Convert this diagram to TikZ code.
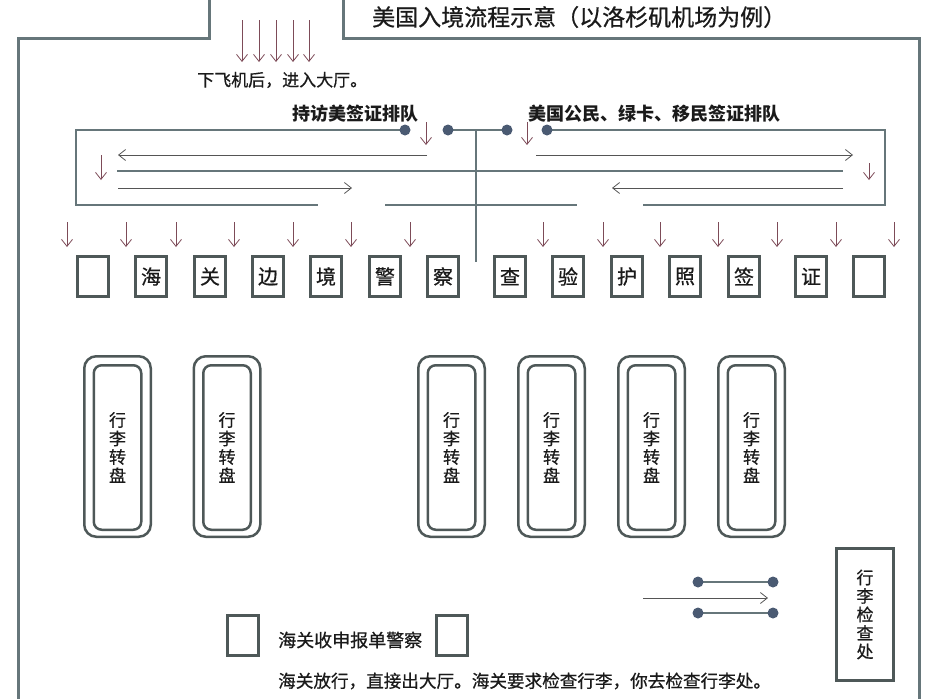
\documentclass[tikz,border=0pt]{standalone}
\usepackage{fontspec}
\newfontfamily\cjk[FakeBold=0.7]{Noto Sans CJK SC}
\newfontfamily\cjkb{Noto Sans CJK SC}
\usetikzlibrary{arrows.meta}
\definecolor{wall}{HTML}{66767A}
\definecolor{boxc}{HTML}{4E5858}
\definecolor{arr}{HTML}{7D4B58}
\definecolor{dotc}{HTML}{4A5A72}
\definecolor{flow}{HTML}{555555}
\definecolor{txt}{HTML}{1A1A1A}
\begin{document}
\begin{tikzpicture}[x=1pt,y=-1pt,
  wallline/.style={draw=wall, line width=3pt},
  qline/.style={draw=wall, line width=2.5pt},
  downarr/.style={draw=arr, line width=0.8pt, -{Straight Barb[length=7pt,width=11pt]}},
  flowarr/.style={draw=flow, line width=0.8pt, -{Straight Barb[length=7pt,width=11pt]}},
  gate/.style={draw=boxc, line width=3.2pt, minimum width=31pt, minimum height=40pt, inner sep=0pt, text=txt, font=\cjk\fontsize{20}{20}\selectfont},
  outerc/.style={draw=boxc, line width=2.5pt, rounded corners=12pt, minimum width=66.5pt, minimum height=180.5pt, inner sep=0pt},
  innerc/.style={draw=boxc, line width=2.5pt, rounded corners=8pt, minimum width=47.5pt, minimum height=164.5pt, inner sep=0pt, align=center, text=txt, font=\cjk\fontsize{17}{18.5}\selectfont},
  checkbox/.style={draw=boxc, line width=3pt, minimum width=57pt, minimum height=132pt, inner sep=0pt, align=center, text=txt, font=\cjk\fontsize{17}{18.5}\selectfont},
  qdot/.style={circle, fill=dotc, minimum size=11pt, inner sep=0pt},
  label/.style={inner sep=0pt, anchor=west, text=txt}
]
\useasboundingbox (0,0) rectangle (935,699);
% walls
\draw[wallline] (18,699) -- (18,38) -- (209,38) -- (209,0);
\draw[wallline] (343,0) -- (343,38) -- (919,38) -- (919,699);
% title and labels
\node[label, font=\cjk\fontsize{23}{23}\selectfont] (title) at (372,17) {美国入境流程示意（以洛杉矶机场为例）};
\node[label, font=\cjk\fontsize{17}{17}\selectfont] (enter) at (197,80) {下飞机后，进入大厅。};
\node[label, font=\cjkb\bfseries\fontsize{18}{18}\selectfont] (qleft) at (292,114) {持访美签证排队};
\node[label, font=\cjkb\bfseries\fontsize{18}{18}\selectfont] (qright) at (528,114) {美国公民、绿卡、移民签证排队};
% entry arrows
\foreach \x in {242,259,276,293,309} \draw[downarr] (\x,20) -- (\x,62);
% queue dots
\coordinate (dA) at (405,130);
\coordinate (dB) at (448,130);
\coordinate (dC) at (507,130);
\coordinate (dD) at (547,130);
% queue walls
\draw[qline] (dA) -- (76,130) -- (76,205) -- (318,205);
\draw[qline] (dB) -- (dC);
\draw[qline] (dD) -- (885,130) -- (885,205) -- (643,205);
\draw[qline] (385,205) -- (577,205);
\draw[qline] (117,171) -- (843,171);
\draw[qline, line width=1.5pt] (476,130) -- (476,262);
\foreach \n in {A,B,C,D} \node[qdot] (dot\n) at (d\n) {};
% queue flow arrows
\draw[downarr] (426,122) -- (426,145);
\draw[downarr] (527,122) -- (527,145);
\draw[flowarr] (427,155) -- (118,155);
\draw[downarr] (101,155) -- (101,180);
\draw[flowarr] (118,188) -- (352,188);
\draw[flowarr] (536,155) -- (853,155);
\draw[downarr] (869,163) -- (869,180);
\draw[flowarr] (843,188) -- (612,188);
% arrows to booths
\foreach \x in {67,126,176,234,293,351,410,543,603,660,718,777,836,894} \draw[downarr] (\x,222) -- (\x,247);
% booths
\foreach \x/\t [count=\i] in {93/{},151/海,210/关,268/边,326/境,385/警,443/察,510/查,568/验,627/护,685/照,744/签,811/证,869/{}}
  \node[gate] (g\i) at (\x,276.5) {\t};
% carousels
\foreach \x [count=\i] in {117.5,227,451.5,551.5,651.5,751.5} {
  \node[outerc] (co\i) at (\x,446.5) {};
  \node[innerc] (ci\i) at (\x,447.5) {行\\李\\转\\盘};
}
% baggage check
\node[checkbox] (check) at (865,614.5) {行\\李\\检\\查\\处};
\coordinate (e1) at (698,582);
\coordinate (e2) at (773,582);
\coordinate (e3) at (698,613);
\coordinate (e4) at (773,613);
\draw[qline] (e1) -- (e2);
\draw[qline] (e3) -- (e4);
\foreach \n in {1,2,3,4} \node[qdot] (ed\n) at (e\n) {};
\coordinate (fs) at (643,598);
\coordinate (fe) at (768,598);
\draw[flowarr] (fs) -- (fe);
% customs
\node[gate] (cust1) at (243,635.5) {};
\node[gate] (cust2) at (452,635.5) {};
\node[label, font=\cjk\fontsize{18}{18}\selectfont] (custtxt) at (278,640) {海关收申报单警察};
\node[label, font=\cjk\fontsize{17.6}{17.6}\selectfont] (exit) at (278,681) {海关放行，直接出大厅。海关要求检查行李，你去检查行李处。};
\end{tikzpicture}
\end{document}
